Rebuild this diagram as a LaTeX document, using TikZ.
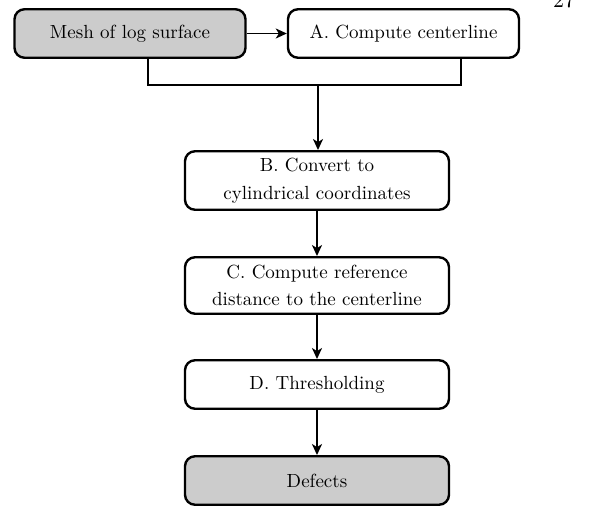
\documentclass[tikz,border=0pt]{standalone}
\usepackage{fontspec}
\setmainfont{lmroman10-regular.otf}
\usetikzlibrary{arrows.meta,calc}
\begin{document}
\begin{tikzpicture}[x=1pt,y=-1pt,
  box/.style={draw, line width=2.4pt, rounded corners=10pt, align=center,
    font=\fontsize{19}{27.5}\selectfont, inner sep=0pt},
  grey/.style={fill=black!20},
  conn/.style={line width=1.8pt},
  arr/.style={conn, -{Stealth[length=11pt,width=10pt,inset=3pt]}}]
\useasboundingbox (0,0) rectangle (595,506);
\node[box,grey,minimum width=231pt,minimum height=48.5pt] (mesh) at (130,33.5) {Mesh of log surface};
\node[box,minimum width=231pt,minimum height=48.5pt] (A) at (403.5,33.5) {A. Compute centerline};
\node[box,minimum width=264pt,minimum height=58.5pt] (B) at (317,180.5) {B. Convert to\\cylindrical coordinates};
\node[box,minimum width=264pt,minimum height=56.5pt] (C) at (317,285.5) {C. Compute reference\\distance to the centerline};
\node[box,minimum width=264pt,minimum height=48.5pt] (D) at (317,384.5) {D. Thresholding};
\node[box,grey,minimum width=264pt,minimum height=48.5pt] (E) at (317,480.5) {Defects};
\node[font=\fontsize{22}{26}\selectfont, anchor=base, inner sep=0pt] (pg) at (564,8) {27};
\coordinate (join) at (318,85);
\draw[arr] (mesh) -- (A);
\draw[conn] ([xshift=18pt]mesh.south) |- (join) -| ([xshift=57.5pt]A.south);
\draw[arr] (join) -- (join |- B.north);
\draw[arr] (B) -- (C);
\draw[arr] (C) -- (D);
\draw[arr] (D) -- (E);
\end{tikzpicture}
\end{document}
